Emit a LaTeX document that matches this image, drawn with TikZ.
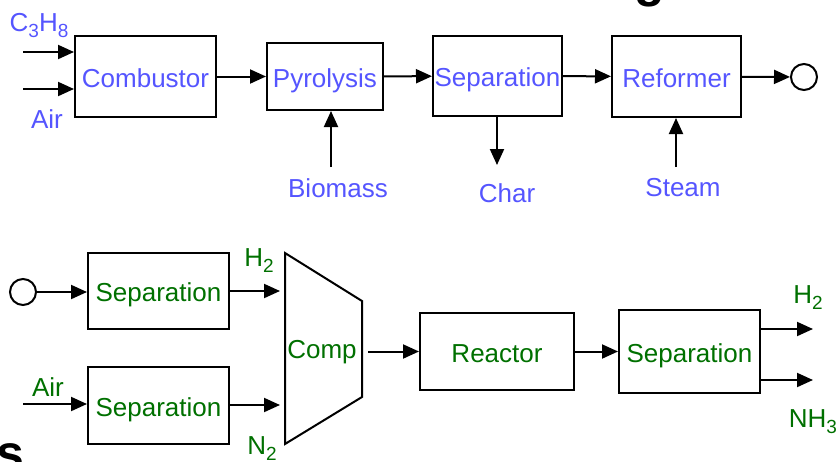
\documentclass[tikz,border=0pt]{standalone}
\usepackage{fontspec}
\setmainfont{Liberation Sans}
\usetikzlibrary{arrows.meta}

\definecolor{blauw}{RGB}{85,85,255}
\definecolor{groen}{RGB}{0,112,0}
\newcommand{\onder}[1]{\raisebox{-6pt}{\fontsize{19}{19}\selectfont #1}}

\tikzstyle{blok} = [draw, line width=2pt, inner sep=0pt, text height=21pt, text depth=0pt, font=\fontsize{26}{30}\selectfont]
\tikzstyle{stroom} = [inner sep=0pt, font=\fontsize{26}{30}\selectfont]
\tikzstyle{pijl} = [line width=2pt, -{Triangle[length=16pt,width=14pt]}]
\tikzstyle{eind} = [circle, draw, line width=2pt, minimum size=26pt, inner sep=0pt]

\begin{document}
\begin{tikzpicture}[x=1pt, y=-1pt]
\useasboundingbox (0,0) rectangle (836,461);
%titelresten
\begin{scope}
\clip (0,0) rectangle (836,461);
\node[anchor=base, inner sep=0pt, font=\fontsize{50}{50}\selectfont\bfseries] (titelg) at (650,-4) {g};
\node[anchor=base east, inner sep=0pt, font=\fontsize{50}{50}\selectfont\bfseries] (titels) at (25,470) {s};
\end{scope}
%begin bovenste rij
\node[blok, text=blauw, minimum width=141pt, minimum height=81pt] (comb) at (145.5,76.5) {Combustor};
\node[blok, text=blauw, minimum width=116pt, minimum height=67pt] (pyro) at (325,76.5) {Pyrolysis};
\node[blok, text=blauw, minimum width=129pt, minimum height=80pt] (sep) at (497.5,76) {Separation};
\node[blok, text=blauw, minimum width=129pt, minimum height=81pt] (ref) at (676.5,76.5) {Reformer};
\node[eind] (uit) at (804,77) {};
\draw[pijl] (comb) -- (pyro);
\draw[pijl] (pyro) -- (sep);
\draw[pijl] (sep) -- (ref);
\draw[pijl] (ref) -- (uit);
%begin invoer
\coordinate (c3in) at (23,52);
\coordinate (airin) at (23,89);
\draw[pijl] (c3in) -- (c3in -| comb.west);
\draw[pijl] (airin) -- (airin -| comb.west);
\node[stroom, text=blauw] (c3h8) at (39,26) {C\onder{3}H\onder{8}};
\node[stroom, text=blauw] (air1) at (47,119) {Air};
%end invoer
\coordinate (bioin) at (331,167);
\coordinate (charuit) at (497,165);
\coordinate (stoomin) at (676,167);
\draw[pijl] (bioin) -- (bioin |- pyro.south);
\draw[pijl] (charuit |- sep.south) -- (charuit);
\draw[pijl] (stoomin) -- (stoomin |- ref.south);
\node[stroom, text=blauw] (bio) at (338,188) {Biomass};
\node[stroom, text=blauw] (char) at (507,193) {Char};
\node[stroom, text=blauw] (stoom) at (683,188) {Steam};
%end bovenste rij
%begin onderste rij
\node[eind] (in) at (23,292) {};
\node[blok, text=groen, minimum width=141pt, minimum height=76pt] (sepa) at (158.5,291) {Separation};
\node[blok, text=groen, minimum width=141pt, minimum height=77pt] (sepb) at (158.5,405.5) {Separation};
\draw[pijl] (in) -- (in -| sepa.west);
\coordinate (air2in) at (23,404);
\draw[pijl] (air2in) -- (air2in -| sepb.west);
\node[stroom, text=groen] (air2) at (48,387) {Air};
%compressor
\coordinate (h2in) at (280,291);
\coordinate (n2in) at (280,405);
\draw[pijl] (sepa.east |- h2in) -- (h2in);
\draw[pijl] (sepb.east |- n2in) -- (n2in);
\node[stroom, text=groen] (h2a) at (259,261) {H\onder{2}};
\node[stroom, text=groen] (n2) at (262,449) {N\onder{2}};
\draw[line width=2pt, line join=miter] (285,253) -- (362,301) -- (362,397) -- (285,444) -- cycle;
\coordinate (compuit) at (368,351.5);
\node[stroom, text=groen, text height=21pt, text depth=0pt] (comp) at (322,348) {Comp};
\node[blok, text=groen, minimum width=154pt, minimum height=77pt] (reac) at (497,351.5) {Reactor};
\node[blok, text=groen, minimum width=141pt, minimum height=83pt] (sepc) at (689.5,351.5) {Separation};
\draw[pijl] (compuit) -- (reac);
\draw[pijl] (reac) -- (sepc);
%producten
\coordinate (h2uit) at (813,329);
\coordinate (nh3uit) at (813,380);
\draw[pijl] (sepc.east |- h2uit) -- (h2uit);
\draw[pijl] (sepc.east |- nh3uit) -- (nh3uit);
\node[stroom, text=groen] (h2b) at (808,298) {H\onder{2}};
\node[stroom, text=groen] (nh3) at (813,422) {NH\onder{3}};
%end onderste rij
\end{tikzpicture}
\end{document}
